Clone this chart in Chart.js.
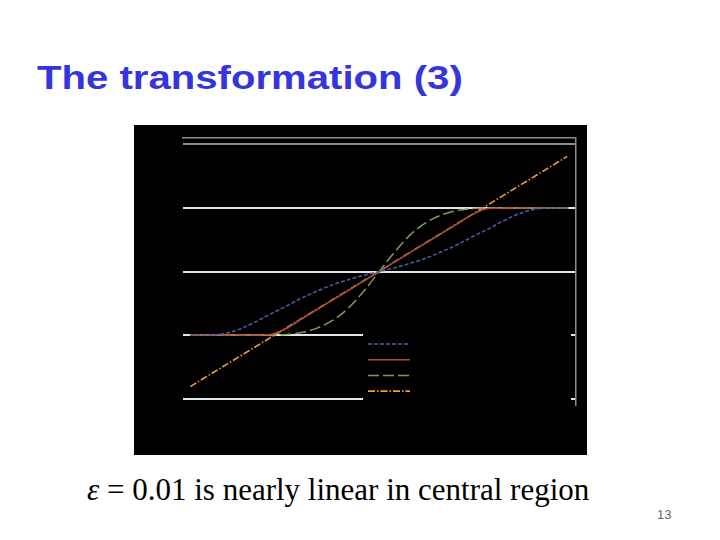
<!DOCTYPE html>
<html lang="en">
<head>
  <meta charset="UTF-8">
  <title>The transformation (3)</title>
  <script src="https://cdn.jsdelivr.net/npm/chart.js"></script>
  <style>
    html, body { margin: 0; padding: 0; background: #fff; }
    #page { position: relative; width: 720px; height: 540px; overflow: hidden; }
    #title { position: absolute; left: 37px; top: 60px; font: bold 34px "Liberation Sans", Arial, sans-serif; line-height: 34px; color: #3535e0; white-space: nowrap; transform: scaleX(1.18); transform-origin: 0 0; }
    #chartBox { position: absolute; left: 134px; top: 125px; width: 453px; height: 330px; background: #000; }
    #caption { position: absolute; left: 87px; top: 474px; font: 31px "Liberation Serif", "Times New Roman", serif; line-height: 31px; color: #000; white-space: nowrap; }
    #caption i { font-style: italic; }
    #pageNo { position: absolute; left: 657px; top: 508px; font: 13px "Liberation Sans", Arial, sans-serif; line-height: 13px; color: #666; }
  </style>
</head>
<body>
  <div id="page">
    <div id="title">The transformation (3)</div>
    <div id="chartBox"><canvas id="transformChart" width="453" height="330"></canvas></div>
    <div id="caption"><i>ε</i> = 0.01 is nearly linear in central region</div>
    <div id="pageNo">13</div>
  </div>

  <script>
    // values
    const xValues = [-1.82, -1.65, -1.5, -1.35, -1.2, -1.05, -0.9, -0.75, -0.6, -0.45, -0.3, -0.15, 0,
                     0.15, 0.3, 0.45, 0.6, 0.75, 0.9, 1.05, 1.2, 1.35, 1.5, 1.65, 1.82];
    const blueY   = [-1, -1, -0.98, -0.91, -0.8, -0.67, -0.55, -0.42, -0.31, -0.21, -0.13, -0.06, 0,
                     0.06, 0.13, 0.21, 0.31, 0.42, 0.55, 0.67, 0.8, 0.91, 0.98, 1, 1];
    const redY    = [-1, -1, -1, -1, -1, -0.99, -0.9, -0.75, -0.6, -0.45, -0.3, -0.15, 0,
                     0.15, 0.3, 0.45, 0.6, 0.75, 0.9, 0.99, 1, 1, 1, 1, 1];
    const greenY  = [-1, -1, -1, -1, -1, -1, -0.99, -0.96, -0.89, -0.77, -0.58, -0.31, 0,
                     0.31, 0.58, 0.77, 0.89, 0.96, 0.99, 1, 1, 1, 1, 1, 1];
    const orangeX = [-1.82, 1.81];
    const orangeY = [-1.81, 1.81];
    const yTicks = [-2, -1, 0, 1, 2];
    const seriesLabels = ['ε = 1', 'ε = 0.01', 'ε = 0.1', 'y = x'];

    const pts = (xs, ys) => xs.map((x, i) => ({ x: x, y: ys[i] }));

    // black legend panel with line samples only (its text is black on black in the original)
    const legendPanel = {
      id: 'legendPanel',
      beforeDatasetsDraw(chart) {
        const ctx = chart.ctx;
        ctx.save();
        ctx.fillStyle = '#000';
        ctx.fillRect(229, 193, 208, 96);
        chart.data.datasets.forEach((ds, i) => {
          const y = 219 + i * 15.7;
          ctx.strokeStyle = ds.borderColor;
          ctx.lineWidth = ds.borderWidth;
          ctx.setLineDash(ds.borderDash || []);
          ctx.beginPath();
          ctx.moveTo(234, y);
          ctx.lineTo(276, y);
          ctx.stroke();
        });
        ctx.restore();
      }
    };

    const grey = '#8d8d8d';

    new Chart(document.getElementById('transformChart'), {
      type: 'line',
      data: {
        datasets: [
          { label: seriesLabels[0], data: pts(xValues, blueY), borderColor: '#4a5ea3', borderWidth: 1.5, borderDash: [4, 2] },
          { label: seriesLabels[1], data: pts(xValues, redY), borderColor: '#a8493a', borderWidth: 1.5 },
          { label: seriesLabels[2], data: pts(xValues, greenY), borderColor: '#7f9c55', borderWidth: 1.5, borderDash: [11, 4] },
          { label: seriesLabels[3], data: pts(orangeX, orangeY), borderColor: '#f39a3a', borderWidth: 1.6, borderDash: [7, 2, 1.5, 2] }
        ]
      },
      options: {
        responsive: false,
        animation: false,
        cubicInterpolationMode: 'monotone',
        elements: { point: { radius: 0 } },
        layout: { padding: { left: 49, right: 11.5, top: 13, bottom: 50 } },
        plugins: { legend: { display: false }, tooltip: { enabled: false } },
        scales: {
          x: { type: 'linear', min: -1.89, max: 1.89, display: false },
          xTop: {
            type: 'linear', position: 'top', min: -1.89, max: 1.89,
            grid: { display: false, drawTicks: false },
            ticks: { display: false },
            border: { display: true, color: grey, width: 1.5 }
          },
          y: {
            min: -2.1, max: 2.1,
            afterBuildTicks: s => { s.ticks = yTicks.map(v => ({ value: v })); },
            grid: { color: c => c.tick && c.tick.value === 2 ? grey : '#e4e4e4', lineWidth: 2, drawTicks: false },
            border: { display: false },
            ticks: { display: false }
          },
          yRight: {
            position: 'right', min: -2.1, max: 2.1,
            grid: { display: false, drawTicks: false },
            ticks: { display: false },
            border: { display: true, color: grey, width: 1.5 }
          }
        }
      },
      plugins: [legendPanel]
    });
  </script>
</body>
</html>
